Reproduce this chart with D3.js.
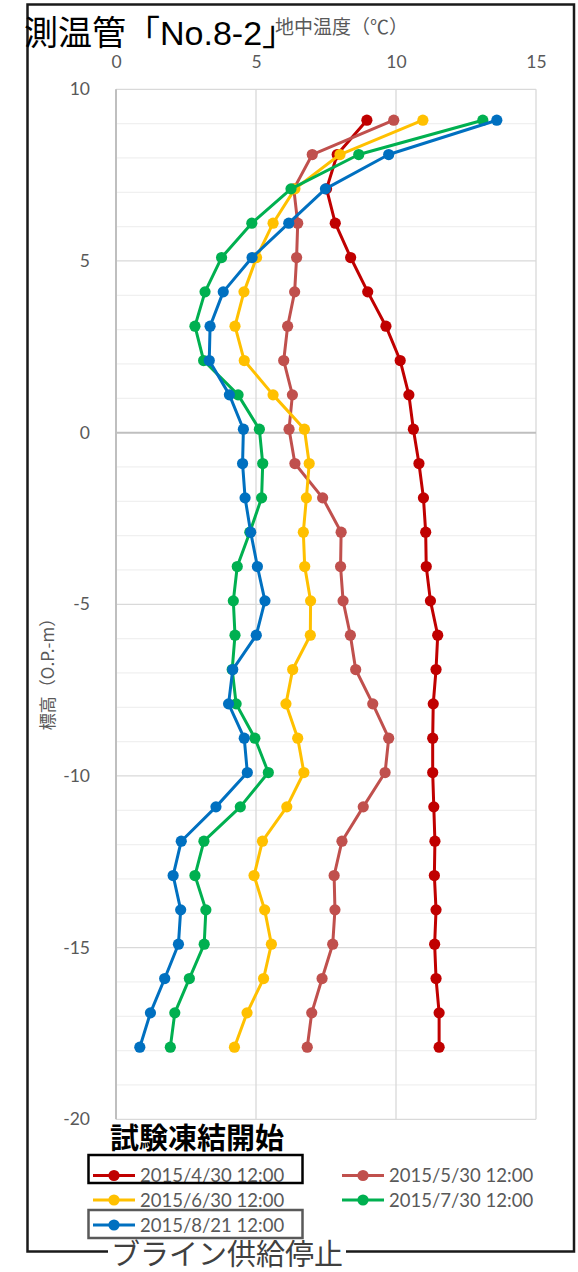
<!DOCTYPE html>
<html>
<head>
<meta charset="utf-8">
<script src="https://cdn.jsdelivr.net/npm/d3@7"></script>
<style>
  html, body { margin: 0; padding: 0; background: #fff; }
  svg { display: block; }
</style>
</head>
<body>
<svg id="chart" width="578" height="1272"></svg>
<script>
// Measurement depths (O.P. m), one reading per metre
const depths = [9.1, 8.1, 7.1, 6.1, 5.1, 4.1, 3.1, 2.1, 1.1, 0.1, -0.9, -1.9, -2.9, -3.9,
  -4.9, -5.9, -6.9, -7.9, -8.9, -9.9, -10.9, -11.9, -12.9, -13.9, -14.9, -15.9, -16.9, -17.9];

// Ground temperature (°C) per date
const temp0430 = [8.96, 7.90, 7.52, 7.83, 8.38, 8.99, 9.64, 10.15, 10.46, 10.62, 10.82, 10.98, 11.06, 11.08,
  11.23, 11.49, 11.43, 11.33, 11.31, 11.31, 11.35, 11.39, 11.37, 11.43, 11.38, 11.43, 11.54, 11.54];
const temp0530 = [9.92, 7.01, 6.35, 6.49, 6.45, 6.38, 6.13, 5.99, 6.30, 6.18, 6.39, 7.38, 8.04, 8.02,
  8.11, 8.37, 8.56, 9.17, 9.74, 9.61, 8.83, 8.07, 7.79, 7.82, 7.74, 7.36, 6.99, 6.83];
const temp0630 = [10.96, 8.00, 6.39, 5.61, 5.02, 4.57, 4.25, 4.58, 5.61, 6.73, 6.90, 6.80, 6.69, 6.74,
  6.95, 6.94, 6.31, 6.07, 6.49, 6.71, 6.10, 5.23, 4.93, 5.31, 5.55, 5.27, 4.68, 4.23];
const temp0730 = [13.10, 8.67, 6.25, 4.85, 3.77, 3.18, 2.82, 3.13, 4.36, 5.12, 5.24, 5.20, 4.78, 4.33,
  4.19, 4.25, 4.15, 4.29, 4.96, 5.44, 4.44, 3.14, 2.82, 3.21, 3.15, 2.62, 2.10, 1.94];
const temp0821 = [13.60, 9.74, 7.48, 6.17, 4.86, 3.83, 3.36, 3.33, 4.05, 4.55, 4.52, 4.61, 4.81, 5.05,
  5.32, 5.01, 4.17, 4.02, 4.58, 4.69, 3.57, 2.33, 2.04, 2.31, 2.23, 1.74, 1.23, 0.85];

const seriesNames = ["2015/4/30 12:00", "2015/5/30 12:00", "2015/6/30 12:00", "2015/7/30 12:00", "2015/8/21 12:00"];
const seriesValues = [temp0430, temp0530, temp0630, temp0730, temp0821];
const seriesColors = ["#C00000", "#C0504D", "#FFC000", "#00B050", "#0070C0"];

const xTicks = [0, 5, 10, 15];
const yTicks = [10, 5, 0, -5, -10, -15, -20];

const svg = d3.select("#chart");
const latin = "Lato, 'Noto Sans CJK JP', sans-serif";
const cjk = "'Noto Sans CJK JP', sans-serif";

const x = d3.scaleLinear().domain([0, 15]).range([116, 536]);
const y = d3.scaleLinear().domain([-20, 10]).range([1119.3, 89.3]);

// Outer frame
svg.append("rect")
  .attr("x", 27.5).attr("y", 4.5).attr("width", 546.5).attr("height", 1247)
  .attr("fill", "#fff").attr("stroke", "#1a1a1a").attr("stroke-width", 2.5);

// Grid: minor horizontal lines every metre, major every 5
const grid = svg.append("g");
grid.selectAll("line.minor").data(d3.range(-19, 10).filter(v => v % 5 !== 0))
  .join("line").attr("class", "minor")
  .attr("x1", x(0)).attr("x2", x(15)).attr("y1", d => y(d)).attr("y2", d => y(d))
  .attr("stroke", "#f0f0f0").attr("stroke-width", 1.2);
grid.selectAll("line.majorH").data([10, 5, -5, -10, -15, -20])
  .join("line").attr("class", "majorH")
  .attr("x1", x(0)).attr("x2", x(15)).attr("y1", d => y(d)).attr("y2", d => y(d))
  .attr("stroke", "#d9d9d9").attr("stroke-width", 1.3);
grid.selectAll("line.majorV").data([5, 10, 15])
  .join("line").attr("class", "majorV")
  .attr("x1", d => x(d)).attr("x2", d => x(d)).attr("y1", y(10)).attr("y2", y(-20))
  .attr("stroke", "#d9d9d9").attr("stroke-width", 1.3);
// Axis lines (vertical axis at 0 °C, horizontal axis at 0 m)
grid.append("line").attr("x1", x(0)).attr("x2", x(0)).attr("y1", y(10)).attr("y2", y(-20))
  .attr("stroke", "#bfbfbf").attr("stroke-width", 2);
grid.append("line").attr("x1", x(0)).attr("x2", x(15)).attr("y1", y(0)).attr("y2", y(0))
  .attr("stroke", "#bfbfbf").attr("stroke-width", 2);

// Axes labels (top temperature axis, left elevation axis)
const fmt = d => String(d);
const xAxis = svg.append("g").attr("transform", `translate(0,${y(10) - 20})`)
  .call(d3.axisTop(x).tickValues(xTicks).tickSize(0).tickPadding(0).tickFormat(fmt));
xAxis.select(".domain").remove();
xAxis.selectAll("text").attr("font-family", latin).attr("font-size", 17.5)
  .attr("fill", "#595959").attr("dy", "0.35em").attr("y", -7);

const yAxis = svg.append("g").attr("transform", `translate(90,0)`)
  .call(d3.axisLeft(y).tickValues(yTicks).tickSize(0).tickPadding(0).tickFormat(fmt));
yAxis.select(".domain").remove();
yAxis.selectAll("text").attr("font-family", latin).attr("font-size", 17.5)
  .attr("fill", "#595959");

// Axis titles
svg.append("text").attr("x", 275).attr("y", 34)
  .attr("font-family", cjk).attr("font-size", 19).attr("fill", "#595959")
  .text("地中温度（℃）");
svg.append("text").attr("transform", "translate(54,670) rotate(-90)")
  .attr("text-anchor", "middle")
  .attr("font-family", cjk).attr("font-size", 17).attr("fill", "#595959")
  .text("標高（O.P.-m）");

// Temperature profiles
const line = d3.line().x(d => x(d[0])).y(d => y(d[1]));
seriesValues.forEach((vals, i) => {
  const pts = vals.map((v, j) => [v, depths[j]]);
  const g = svg.append("g");
  g.append("path").datum(pts).attr("d", line)
    .attr("fill", "none").attr("stroke", seriesColors[i]).attr("stroke-width", 3)
    .attr("stroke-linejoin", "round");
  g.selectAll("circle").data(pts).join("circle")
    .attr("cx", d => x(d[0])).attr("cy", d => y(d[1])).attr("r", 5.6)
    .attr("fill", seriesColors[i]);
});

// Chart title
svg.append("text").attr("x", 24).attr("y", 44.5)
  .attr("font-family", "'Liberation Sans', 'Noto Sans CJK JP', sans-serif")
  .attr("font-size", 34).attr("fill", "#000")
  .text("測温管「No.8-2」");

// Legend
const legendPos = [[93, 1175.5], [342, 1175.5], [93, 1200], [342, 1200], [93, 1225]];
const legend = svg.append("g");
seriesNames.forEach((name, i) => {
  const [lx, ly] = legendPos[i];
  legend.append("line").attr("x1", lx).attr("x2", lx + 42).attr("y1", ly).attr("y2", ly)
    .attr("stroke", seriesColors[i]).attr("stroke-width", 3);
  legend.append("circle").attr("cx", lx + 21).attr("cy", ly).attr("r", 5.6)
    .attr("fill", seriesColors[i]);
  legend.append("text").attr("x", lx + 47).attr("y", ly + 6.6)
    .attr("font-family", latin).attr("font-size", 18.5).attr("fill", "#595959")
    .text(name);
});

// Annotation boxes around the first and last dates
svg.append("rect").attr("x", 88.5).attr("y", 1155).attr("width", 214).attr("height", 28)
  .attr("fill", "none").attr("stroke", "#000").attr("stroke-width", 2.5);
svg.append("rect").attr("x", 88.5).attr("y", 1210).attr("width", 214).attr("height", 28)
  .attr("fill", "none").attr("stroke", "#595959").attr("stroke-width", 2.5);

svg.append("text").attr("x", 110).attr("y", 1149)
  .attr("font-family", cjk).attr("font-size", 29).attr("font-weight", 700).attr("fill", "#000")
  .text("試験凍結開始");

svg.append("rect").attr("x", 108).attr("y", 1241).attr("width", 238).attr("height", 31).attr("fill", "#fff");
svg.append("text").attr("x", 111).attr("y", 1265)
  .attr("font-family", cjk).attr("font-size", 29).attr("fill", "#404040")
  .text("ブライン供給停止");
</script>
</body>
</html>
